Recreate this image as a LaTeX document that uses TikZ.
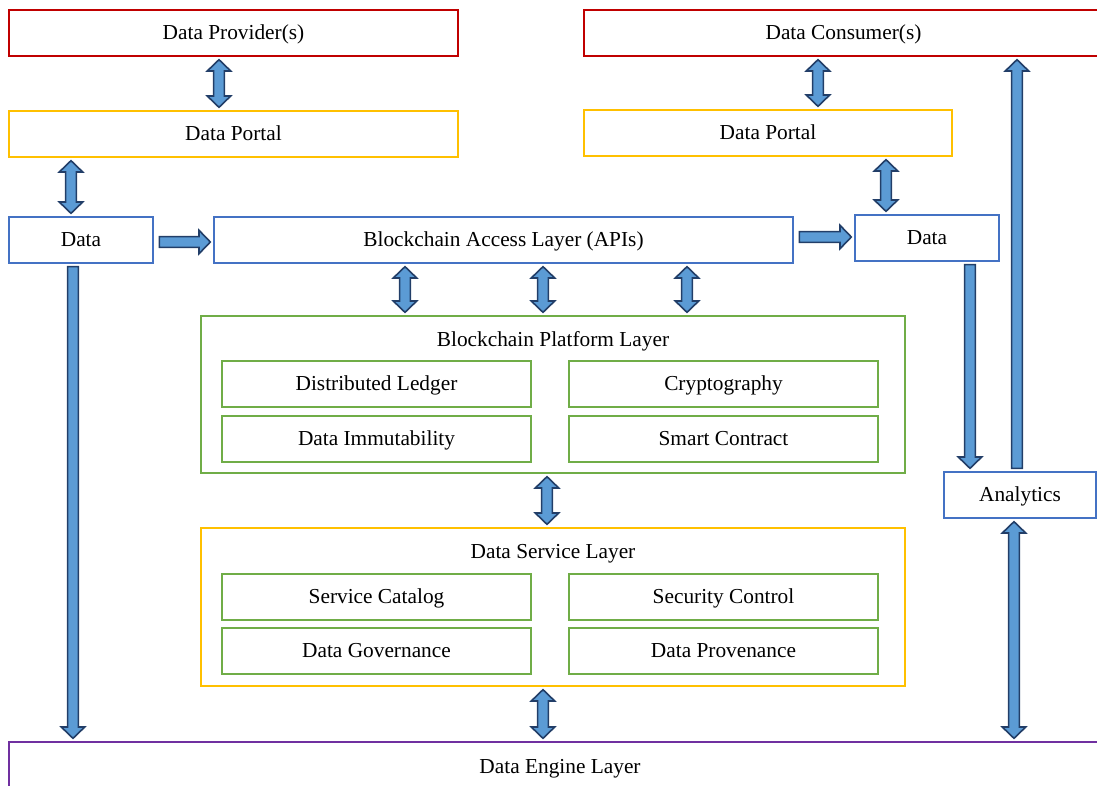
\documentclass[tikz,border=0pt]{standalone}
\usepackage{fontspec}
\setmainfont{Liberation Serif}
\usetikzlibrary{calc}
\definecolor{BoxRed}{RGB}{192,0,0}
\definecolor{BoxGold}{RGB}{255,192,0}
\definecolor{BoxBlue}{RGB}{68,114,196}
\definecolor{BoxGreen}{RGB}{112,173,71}
\definecolor{BoxPurple}{RGB}{112,48,160}
\definecolor{ArrowFill}{RGB}{91,155,213}
\definecolor{ArrowEdge}{RGB}{34,62,104}

% block arrow sizes
\newcommand{\arrSw}{4pt}
\newcommand{\arrHw}{8.8pt}
\newcommand{\arrHl}{8.5pt}
\newcommand{\arrGap}{2pt}

% vertical double arrow: x, upper anchor, lower anchor
\newcommand{\vboth}[3]{%
  \path[barrow] let \p1=(#2), \p2=(#3), \p3=(#1,0) in
    (\x3,\y1-\arrGap) -- (\x3+\arrHw,\y1-\arrGap-\arrHl) -- (\x3+\arrSw,\y1-\arrGap-\arrHl)
    -- (\x3+\arrSw,\y2+\arrGap+\arrHl) -- (\x3+\arrHw,\y2+\arrGap+\arrHl) -- (\x3,\y2+\arrGap)
    -- (\x3-\arrHw,\y2+\arrGap+\arrHl) -- (\x3-\arrSw,\y2+\arrGap+\arrHl)
    -- (\x3-\arrSw,\y1-\arrGap-\arrHl) -- (\x3-\arrHw,\y1-\arrGap-\arrHl) -- cycle;}
% vertical arrow pointing down: x, from (upper), to (lower)
\newcommand{\vdown}[3]{%
  \path[barrow] let \p1=(#2), \p2=(#3), \p3=(#1,0) in
    (\x3-\arrSw,\y1-\arrGap) -- (\x3-\arrSw,\y2+\arrGap+\arrHl) -- (\x3-\arrHw,\y2+\arrGap+\arrHl)
    -- (\x3,\y2+\arrGap) -- (\x3+\arrHw,\y2+\arrGap+\arrHl) -- (\x3+\arrSw,\y2+\arrGap+\arrHl)
    -- (\x3+\arrSw,\y1-\arrGap) -- cycle;}
% vertical arrow pointing up: x, from (lower), to (upper)
\newcommand{\vup}[3]{%
  \path[barrow] let \p1=(#2), \p2=(#3), \p3=(#1,0) in
    (\x3-\arrSw,\y1+\arrGap) -- (\x3-\arrSw,\y2-\arrGap-\arrHl) -- (\x3-\arrHw,\y2-\arrGap-\arrHl)
    -- (\x3,\y2-\arrGap) -- (\x3+\arrHw,\y2-\arrGap-\arrHl) -- (\x3+\arrSw,\y2-\arrGap-\arrHl)
    -- (\x3+\arrSw,\y1+\arrGap) -- cycle;}
% horizontal arrow pointing right: y, from, to
\newcommand{\hright}[3]{%
  \path[barrow] let \p1=(#2), \p2=(#3), \p3=(0,#1) in
    (\x1+2*\arrGap,\y3+\arrSw) -- (\x2-\arrGap-\arrHl,\y3+\arrSw) -- (\x2-\arrGap-\arrHl,\y3+\arrHw)
    -- (\x2-\arrGap,\y3) -- (\x2-\arrGap-\arrHl,\y3-\arrHw) -- (\x2-\arrGap-\arrHl,\y3-\arrSw)
    -- (\x1+2*\arrGap,\y3-\arrSw) -- cycle;}

\begin{document}
\begin{tikzpicture}[x=0.75pt, y=-0.75pt,
    box/.style={draw, line width=1.5pt, fill=white, inner sep=0pt, font=\fontsize{16}{19}\selectfont,
      text height=11pt, text depth=1.5pt, minimum height=34.5pt},
    party/.style={box, draw=BoxRed},
    portal/.style={box, draw=BoxGold},
    datab/.style={box, draw=BoxBlue},
    part/.style={box, draw=BoxGreen, minimum width=231.75pt},
    layer/.style={draw, line width=1.5pt, inner sep=0pt, minimum width=528pt},
    title/.style={font=\fontsize{16}{19}\selectfont, inner sep=0pt, text height=11pt, text depth=1.5pt},
    barrow/.style={fill=ArrowFill, draw=ArrowEdge, line width=1.2pt, line join=miter}]

    \useasboundingbox (0,0) rectangle (1097,786);

    % Top row
    \node [party, minimum width=336.75pt] (prov) at (233.5,33) {Data Provider(s)};
    \node [party, minimum width=389.25pt] (cons) at (843.5,33) {Data Consumer(s)};
    \node [portal, minimum width=336.75pt] (portl) at (233.5,134) {Data Portal};
    \node [portal, minimum width=276pt] (portr) at (768,133) {Data Portal};

    % Access row
    \node [datab, minimum width=108pt] (datl) at (81,240) {Data};
    \node [datab, minimum width=434.25pt] (access) at (503.5,240) {Blockchain Access Layer (APIs)};
    \node [datab, minimum width=108pt] (datr) at (927,238) {Data};
    \node [datab, minimum width=114pt] (analytics) at (1020,495) {Analytics};

    % Blockchain platform layer
    \node [layer, draw=BoxGreen, minimum height=117.75pt] (plat) at (553,394.5) {};
    \node [title] at (553,340) {Blockchain Platform Layer};
    \node [part] (ledger) at (376.5,384) {Distributed Ledger};
    \node [part] (crypto) at (723.5,384) {Cryptography};
    \node [part] (immut) at (376.5,439) {Data Immutability};
    \node [part] (smart) at (723.5,439) {Smart Contract};

    % Data service layer
    \node [layer, draw=BoxGold, minimum height=118.5pt] (serv) at (553,607) {};
    \node [title] at (553,552) {Data Service Layer};
    \node [part] (catalog) at (376.5,597) {Service Catalog};
    \node [part] (secur) at (723.5,597) {Security Control};
    \node [part] (govern) at (376.5,651) {Data Governance};
    \node [part] (proven) at (723.5,651) {Data Provenance};

    % Data engine layer
    \node [box, draw=BoxPurple, minimum width=826.5pt, minimum height=37.5pt] (engine) at (560,767) {Data Engine Layer};

    % Connectors
    \vboth{219}{prov.south}{portl.north}
    \vboth{818}{cons.south}{portr.north}
    \vboth{71}{portl.south}{datl.north}
    \vboth{886}{portr.south}{datr.north}
    \hright{242}{datl.east}{access.west}
    \hright{237}{access.east}{datr.west}
    \vboth{405}{access.south}{plat.north}
    \vboth{543}{access.south}{plat.north}
    \vboth{687}{access.south}{plat.north}
    \vboth{547}{plat.south}{serv.north}
    \vboth{543}{serv.south}{engine.north}
    \vdown{73}{datl.south}{engine.north}
    \vdown{970}{datr.south}{analytics.north}
    \vup{1017}{analytics.north}{cons.south}
    \vboth{1014}{analytics.south}{engine.north}
\end{tikzpicture}
\end{document}
